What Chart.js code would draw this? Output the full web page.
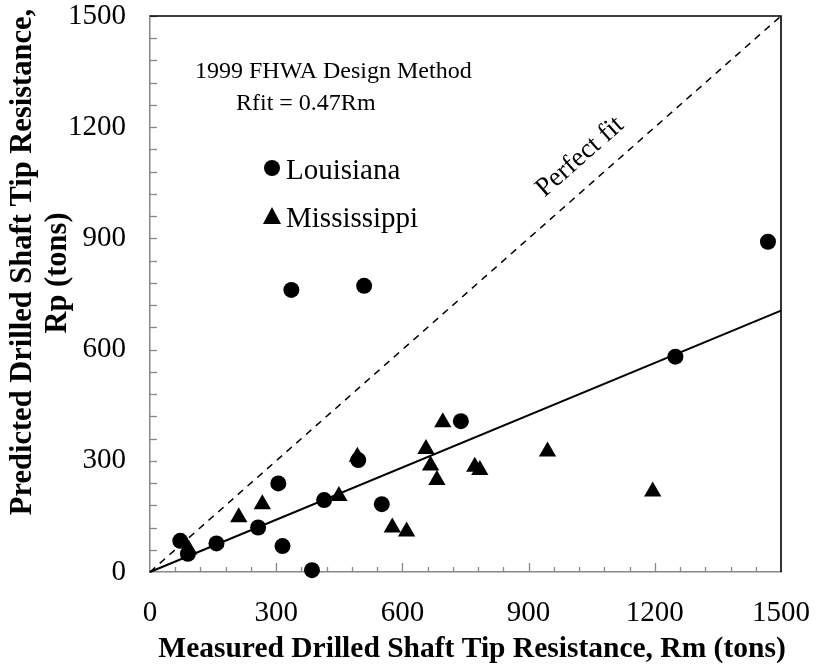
<!DOCTYPE html>
<html>

<head>
    <title>Drilled Shaft Tip Resistance</title>
    <meta charset="utf-8" />
    <style>
        html, body { margin: 0; padding: 0; background: #fff; }
        #wrap { width: 817px; height: 665px; }
    </style>
</head>

<body>
    <div id="wrap">
        <canvas id="tipChart" width="817" height="665"></canvas>
    </div>

    <script src="https://cdn.jsdelivr.net/npm/chart.js"></script>
    <script type="text/javascript">
        // measured (Rm) vs predicted (Rp) tip resistance, tons
        const louisianaRm = [72, 90, 158, 257, 305, 315, 385, 414, 495, 551, 739, 1249, 1469, 336, 509];
        const louisianaRp = [84, 49, 77, 120, 239, 70, 5, 194, 302, 183, 407, 581, 891, 761, 772];
        const mississippiRm = [92, 211, 267, 449, 493, 576, 610, 656, 667, 682, 696, 772, 784, 945, 1195];
        const mississippiRp = [61, 148, 183, 205, 311, 120, 109, 332, 287, 248, 404, 284, 275, 325, 217];

        const axisTicks = [0, 300, 600, 900, 1200, 1500];
        const fitSlope = 0.47;

        const SERIF = '"Liberation Serif", "Times New Roman", serif';

        function toPoints(xs, ys) {
            return xs.map((x, i) => ({ x: x, y: ys[i] }));
        }

        // small inward ticks every 60 tons, black box on top/right, notes
        const decorations = {
            id: 'decorations',
            afterDatasetsDraw(chart) {
                const ctx = chart.ctx;
                const area = chart.chartArea;
                const xs = chart.scales.x;
                const ys = chart.scales.y;
                ctx.save();

                ctx.strokeStyle = '#878787';
                ctx.lineWidth = 1.3;
                for (let v = 60; v < 1500; v += 60) {
                    const px = Math.round(xs.getPixelForValue(v)) + 0.5;
                    const len = v % 300 === 0 ? 9 : 5;
                    ctx.beginPath();
                    ctx.moveTo(px, area.bottom);
                    ctx.lineTo(px, area.bottom - len);
                    ctx.stroke();
                }
                for (let v = 60; v <= 1500; v += 60) {
                    const py = Math.round(ys.getPixelForValue(v)) + 0.5;
                    ctx.beginPath();
                    ctx.moveTo(area.left, py);
                    ctx.lineTo(area.left + 7, py);
                    ctx.stroke();
                }

                ctx.strokeStyle = '#000';
                ctx.lineWidth = 1.6;
                ctx.beginPath();
                ctx.moveTo(area.left, area.top);
                ctx.lineTo(area.right, area.top);
                ctx.lineTo(area.right, area.bottom);
                ctx.stroke();

                ctx.fillStyle = '#000';
                ctx.textBaseline = 'alphabetic';
                ctx.textAlign = 'left';
                ctx.font = '24px ' + SERIF;
                ctx.fillText('1999 FHWA Design Method', 195, 78);
                ctx.fillText('Rfit = 0.47Rm', 236, 110);

                // legend
                ctx.beginPath();
                ctx.arc(272, 168, 8, 0, Math.PI * 2);
                ctx.fill();
                ctx.beginPath();
                ctx.moveTo(272, 207);
                ctx.lineTo(281, 224);
                ctx.lineTo(263, 224);
                ctx.closePath();
                ctx.fill();
                ctx.font = '29px ' + SERIF;
                ctx.fillText('Louisiana', 286, 179);
                ctx.fillText('Mississippi', 286, 227);

                // label along the 1:1 line
                const x0 = xs.getPixelForValue(0), y0 = ys.getPixelForValue(0);
                const x1 = xs.getPixelForValue(1500), y1 = ys.getPixelForValue(1500);
                const ang = Math.atan2(y1 - y0, x1 - x0);
                ctx.translate(580, 157);
                ctx.rotate(ang);
                ctx.textAlign = 'center';
                ctx.textBaseline = 'middle';
                ctx.font = '27px ' + SERIF;
                ctx.fillText('Perfect fit', 0, 0);
                ctx.restore();

                // axis titles
                ctx.save();
                ctx.fillStyle = '#000';
                ctx.font = 'bold 29.5px ' + SERIF;
                ctx.textAlign = 'center';
                ctx.textBaseline = 'alphabetic';
                ctx.fillText('Measured Drilled Shaft Tip Resistance, Rm (tons)', 472, 657);
                ctx.textBaseline = 'middle';
                ctx.font = 'bold 30.5px ' + SERIF;
                ctx.translate(23, 262);
                ctx.rotate(-Math.PI / 2);
                ctx.fillText('Predicted Drilled Shaft Tip Resistance,', 0, 0);
                ctx.fillText('Rp (tons)', -11, 35);
                ctx.restore();
            }
        };

        const ctx = document.getElementById('tipChart');

        new Chart(ctx, {
            type: 'scatter',
            data: {
                datasets: [{
                    label: 'Perfect fit',
                    data: [{ x: 0, y: 0 }, { x: 1500, y: 1500 }],
                    showLine: true,
                    borderColor: '#000',
                    borderWidth: 1.5,
                    borderDash: [7, 6],
                    pointRadius: 0
                }, {
                    label: 'Rfit',
                    data: [{ x: 0, y: 0 }, { x: 1500, y: 1500 * fitSlope }],
                    showLine: true,
                    borderColor: '#000',
                    borderWidth: 2,
                    pointRadius: 0
                }, {
                    label: 'Louisiana',
                    data: toPoints(louisianaRm, louisianaRp),
                    pointStyle: 'circle',
                    pointRadius: 8,
                    backgroundColor: '#000',
                    borderColor: '#000',
                    borderWidth: 0
                }, {
                    label: 'Mississippi',
                    data: toPoints(mississippiRm, mississippiRp),
                    pointStyle: 'triangle',
                    pointRadius: 10,
                    backgroundColor: '#000',
                    borderColor: '#000',
                    borderWidth: 0
                }]
            },
            options: {
                responsive: false,
                animation: false,
                clip: false,
                layout: {
                    padding: { left: 0, right: 36, top: 16, bottom: 0 }
                },
                plugins: {
                    legend: { display: false },
                    tooltip: { enabled: false }
                },
                scales: {
                    x: {
                        type: 'linear',
                        min: 0,
                        max: 1500,
                        afterBuildTicks: (scale) => {
                            scale.ticks = axisTicks.map((v) => ({ value: v }));
                        },
                        afterFit: (scale) => {
                            scale.height = 93;
                            scale.paddingLeft = 0;
                            scale.paddingRight = 0;
                        },
                        grid: { display: false, drawTicks: false },
                        border: { display: true, color: '#878787', width: 1.5 },
                        ticks: {
                            color: '#000',
                            padding: 24,
                            maxRotation: 0,
                            callback: (v) => String(v),
                            font: { family: SERIF, size: 29 }
                        }
                    },
                    y: {
                        type: 'linear',
                        min: 0,
                        max: 1500,
                        afterBuildTicks: (scale) => {
                            scale.ticks = axisTicks.map((v) => ({ value: v }));
                        },
                        afterFit: (scale) => {
                            scale.width = 150;
                            scale.paddingTop = 0;
                            scale.paddingBottom = 0;
                        },
                        grid: { display: false, drawTicks: false },
                        border: { display: true, color: '#878787', width: 1.5 },
                        ticks: {
                            color: '#000',
                            padding: 24,
                            callback: (v) => String(v),
                            font: { family: SERIF, size: 29 }
                        }
                    }
                }
            },
            plugins: [decorations]
        });
    </script>
</body>

</html>
